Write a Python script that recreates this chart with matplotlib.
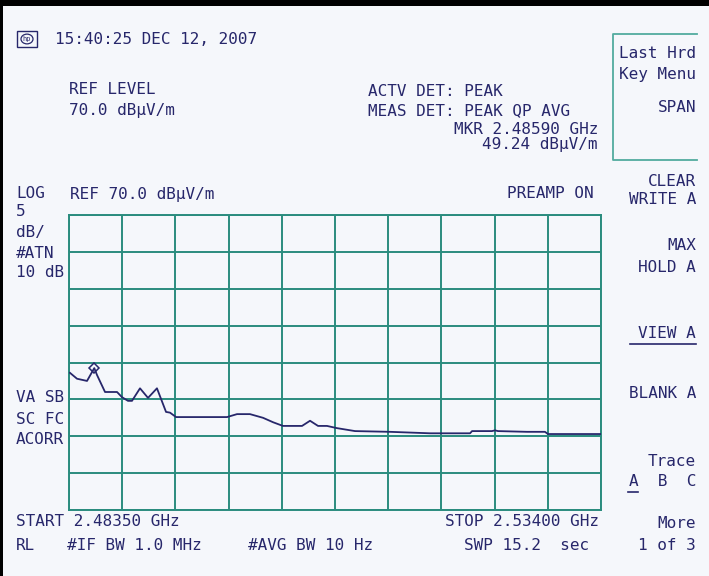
import matplotlib
matplotlib.use("Agg")
import matplotlib.pyplot as plt
from matplotlib.patches import Rectangle, Circle
from matplotlib.lines import Line2D

W, H = 709, 576
BG = "#f5f7fb"
INK = "#27276b"
GRID = "#2a8c7e"
BOX = "#52ab9f"

# trace A
freq_ghz = [2.48359, 2.48426, 2.48521, 2.48590, 2.48616, 2.48692, 2.48806,
            2.48853, 2.48910, 2.48948, 2.49024, 2.49100, 2.49185, 2.49271,
            2.49309, 2.49366, 2.49850, 2.49945, 2.50068, 2.50192, 2.50287,
            2.50381, 2.50562, 2.50638, 2.50714, 2.50799, 2.50894, 2.51065,
            2.51397, 2.51777, 2.52157, 2.52176, 2.52365, 2.52394, 2.52422,
            2.52698, 2.52868, 2.52897, 2.53400]
level_dbuv = [48.6, 47.8, 47.5, 49.24, 48.3, 46.0, 46.0,
              45.3, 44.8, 44.8, 46.5, 45.2, 46.5, 43.3,
              43.2, 42.6, 42.6, 43.0, 43.0, 42.5, 41.9,
              41.4, 41.4, 42.1, 41.4, 41.4, 41.1, 40.7,
              40.6, 40.4, 40.4, 40.7, 40.7, 40.8, 40.7,
              40.6, 40.6, 40.3, 40.3]
marker_f, marker_db = 2.48590, 49.24
start_ghz, stop_ghz = 2.48350, 2.53400
ref_db, db_per_div, n_ydiv, n_xdiv = 70.0, 5.0, 8, 10

# screen annotations: (text, x px, y px, ha)
screen_texts = [
    ("15:40:25 DEC 12, 2007", 55, 40, "left"),
    ("REF LEVEL", 69, 90, "left"),
    ("70.0 dBµV/m", 69, 110, "left"),
    ("ACTV DET: PEAK", 368, 91, "left"),
    ("MEAS DET: PEAK QP AVG", 368, 111, "left"),
    ("MKR 2.48590 GHz", 598, 130, "right"),
    ("49.24 dBµV/m", 598, 144, "right"),
    ("LOG", 16, 194, "left"),
    ("REF 70.0 dBµV/m", 70, 194, "left"),
    ("PREAMP ON", 594, 194, "right"),
    ("5", 16, 212, "left"),
    ("dB/", 16, 232, "left"),
    ("#ATN", 16, 253, "left"),
    ("10 dB", 16, 273, "left"),
    ("VA SB", 16, 398, "left"),
    ("SC FC", 16, 419, "left"),
    ("ACORR", 16, 439, "left"),
    ("START 2.48350 GHz", 16, 522, "left"),
    ("STOP 2.53400 GHz", 599, 522, "right"),
    ("RL", 16, 545, "left"),
    ("#IF BW 1.0 MHz", 67, 545, "left"),
    ("#AVG BW 10 Hz", 373, 545, "right"),
    ("SWP 15.2  sec", 589, 545, "right"),
]
softkeys = [
    ("Last Hrd", 53), ("Key Menu", 74), ("SPAN", 108),
    ("CLEAR", 181), ("WRITE A", 200), ("MAX", 246), ("HOLD A", 267),
    ("VIEW A", 334), ("BLANK A", 394), ("Trace", 461), ("A  B  C", 481),
    ("More", 523), ("1 of 3", 545),
]


def fx(x):
    return x / W


def fy(y):
    return 1 - y / H


fig = plt.figure(figsize=(W / 100, H / 100), dpi=100, facecolor=BG)
plt.rcParams["font.family"] = ["DejaVu Sans Mono"]

# graticule
ax = fig.add_axes([fx(69), fy(510), fx(601) - fx(69), fy(215) - fy(510)])
ax.set_facecolor(BG)
bottom_db = ref_db - n_ydiv * db_per_div
ax.set_xlim(start_ghz, stop_ghz)
ax.set_ylim(bottom_db, ref_db)
span = stop_ghz - start_ghz
ax.set_xticks([start_ghz + span * i / n_xdiv for i in range(n_xdiv + 1)])
ax.set_yticks([bottom_db + db_per_div * i for i in range(n_ydiv + 1)])
ax.tick_params(length=0, labelbottom=False, labelleft=False)
ax.grid(True, color=GRID, lw=1.4)
for s in ax.spines.values():
    s.set_color(GRID)
    s.set_linewidth(1.4)
ax.plot(freq_ghz, level_dbuv, color=INK, lw=1.3, zorder=3)
ax.plot([marker_f], [marker_db], marker="D", ms=5, mfc="none", mec=INK,
        mew=1.1, zorder=4)

fs = 11.5
for txt, x, y, ha in screen_texts:
    fig.text(fx(x), fy(y), txt, ha=ha, va="center", color=INK, fontsize=fs)
for txt, y in softkeys:
    fig.text(fx(696), fy(y), txt, ha="right", va="center", color=INK, fontsize=fs)

# underlines on active softkeys
fig.add_artist(Line2D([fx(630), fx(696)], [fy(344), fy(344)], color=INK, lw=1.2))
fig.add_artist(Line2D([fx(628), fx(638)], [fy(492), fy(492)], color=INK, lw=1.2))

# softkey menu box
fig.add_artist(Line2D([fx(697), fx(613), fx(613), fx(697)],
                      [fy(34), fy(34), fy(160), fy(160)], color=BOX, lw=1.3))

# hp logo
fig.add_artist(Rectangle((fx(17), fy(47)), fx(20), 16 / H, fill=False,
                         ec=INK, lw=1.0))
fig.add_artist(Circle((fx(27), fy(39)), 6 / W, fill=False, ec=INK, lw=0.9,
                      transform=fig.transFigure))
fig.text(fx(27), fy(39), "hp", ha="center", va="center", color=INK, fontsize=5)

# black frame edge of the screenshot
fig.add_artist(Rectangle((0, fy(6)), 1, 6 / H, color="black", lw=0))
fig.add_artist(Rectangle((0, 0), fx(3), 1, color="black", lw=0))

fig.savefig("out.png", dpi=100, facecolor=BG)
